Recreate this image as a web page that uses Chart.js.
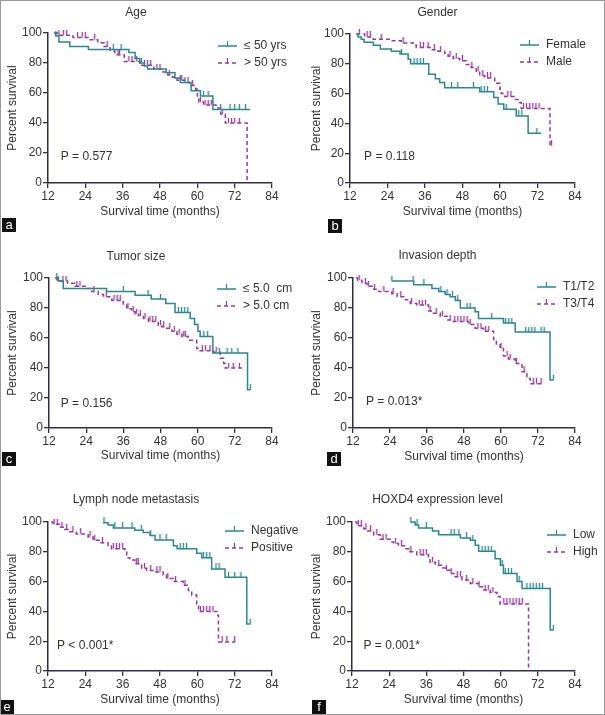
<!DOCTYPE html>
<html>
<head>
<meta charset="utf-8">
<script src="https://cdn.jsdelivr.net/npm/chart.js@4.4.1/dist/chart.umd.min.js"></script>
<style>
  body { margin: 0; background: #fff; }
  #fig { position: relative; width: 605px; height: 715px; overflow: hidden; }
  #frame { position: absolute; left: 0; top: 0; width: 605px; height: 715px; box-sizing: border-box; border: 1px solid #9a9a9a; pointer-events: none; }
  canvas { position: absolute; }
  .tag { position: absolute; width: 14px; height: 14px; background: #111; color: #fff;
         font: 13px "Liberation Sans", Arial, sans-serif; line-height: 13px; text-align: center; }
</style>
</head>
<body>
<div id="fig">
  <canvas id="cA" width="300" height="235" style="left:0;top:0"></canvas>
  <canvas id="cB" width="305" height="235" style="left:300px;top:0"></canvas>
  <canvas id="cC" width="300" height="240" style="left:0;top:235px"></canvas>
  <canvas id="cD" width="305" height="240" style="left:300px;top:235px"></canvas>
  <canvas id="cE" width="300" height="240" style="left:0;top:475px"></canvas>
  <canvas id="cF" width="305" height="240" style="left:300px;top:475px"></canvas>
  <div class="tag" style="left:2px;top:218px">a</div>
  <div class="tag" style="left:328px;top:219px">b</div>
  <div class="tag" style="left:2px;top:452px">c</div>
  <div class="tag" style="left:327px;top:452px">d</div>
  <div class="tag" style="left:0;top:700px">e</div>
  <div class="tag" style="left:312px;top:700px">f</div>
  <div id="frame"></div>
</div>
<script>
// --- data: event times (months) and survival (%) after each event, plus censor times ---
// a. Age
var ageLabels = ['≤ 50 yrs', '> 50 yrs'];
var ageLowTime = [14, 14.5, 15.5, 19, 25, 38, 40, 41.5, 43, 44, 50, 52.8, 54.5, 58, 61, 65, 77];
var ageLowSurv = [100, 98, 94, 91, 89, 87, 83, 80, 78, 76, 73.5, 70, 67, 61.5, 58, 49, 49];
var ageLowCens = [14.5, 33, 35.5, 42, 56, 62, 63.5, 67.5, 70.5, 72, 73.5, 75.5];
var ageHighTime = [14, 15, 20, 25.5, 28, 30, 32, 33.5, 36.5, 41.5, 46, 49, 50.5, 52, 53.5, 56, 57.5, 59.5, 60, 60.5, 62, 66, 67.5, 69, 76];
var ageHighSurv = [100, 98.5, 97, 95.5, 93.5, 91, 88, 85.5, 81, 78.5, 76, 74, 72, 70.5, 68.5, 67, 65, 62.5, 58, 54, 52, 50, 46, 40, 0];
var ageHighCens = [15.5, 17, 18, 21.5, 23, 24, 27, 31, 34.5, 35, 38, 39, 40.5, 43, 44, 45, 47, 48, 51, 54.5, 55, 57, 58.5, 61, 62.5, 63.5, 64.5, 68, 70, 71, 72, 73.5];

// b. Gender
var genderLabels = ['Female', 'Male'];
var femaleTime = [14, 14.6, 15.6, 16.5, 19.5, 21.7, 25.2, 28, 30.6, 31.4, 37.2, 39.3, 40.7, 42.3, 53.5, 58, 59.4, 61.2, 65.2, 69, 73.2];
var femaleSurv = [100, 98, 96.5, 94.5, 92.5, 90, 88.5, 86.5, 83, 80, 73, 70, 67.5, 64, 61.3, 57.3, 53, 49.5, 45, 33.4, 33.4];
var femaleCens = [28.5, 32.5, 33.5, 34.5, 35.5, 44.5, 46.5, 51.5, 54, 55, 56, 62, 66, 67, 71.8];
var maleTime = [14, 16.7, 19.4, 25.2, 28.4, 32.2, 33.2, 38, 40.2, 42.3, 43.4, 45, 47.1, 49.2, 50.8, 52.4, 53.5, 55.1, 58.3, 60, 60.4, 61.5, 64.7, 65.8, 66.8, 76, 76.5];
var maleSurv = [100, 98, 96.5, 95.5, 94, 92.5, 91, 89.5, 88.5, 87, 85, 83.5, 82, 79.5, 77.5, 75, 72, 70.5, 67, 63, 60, 58, 56, 54, 50, 25, 25];
var maleCens = [15, 17.5, 18.5, 22, 29, 34.5, 35.5, 37, 39, 41, 44, 46, 48, 51, 53, 54.5, 56, 57, 62.5, 63.5, 67.5, 68.5, 69.5, 70.5, 71.5, 72.5, 76.5];

// c. Tumor size
var sizeLabels = ['≤ 5.0  cm', '> 5.0 cm'];
var sizeSmallTime = [14, 15, 16.6, 30.6, 39.8, 45, 49.7, 52.7, 57.6, 59, 60.1, 60.8, 64.9, 76.1, 77];
var sizeSmallSurv = [100, 98, 93, 91, 88.5, 86, 83, 77, 73, 69, 64.5, 61, 50, 25.5, 25.5];
var sizeSmallCens = [14.5, 36, 44, 48, 53.8, 54.8, 55.8, 56.8, 62, 63.2, 67, 69.5, 71, 73, 77];
var sizeLargeTime = [14, 14.5, 18, 20.4, 24.2, 25.8, 27.9, 29.6, 32.3, 36, 37.1, 38.7, 39.8, 40.9, 42.5, 44.1, 47.3, 48.4, 50, 51.7, 53.3, 54.9, 57, 59.7, 60.8, 65.1, 67.3, 68.4, 68.9, 74.3];
var sizeLargeSurv = [100, 98, 96.5, 94.5, 93, 91, 89, 87.5, 85, 82, 79.5, 77.5, 76, 75, 73, 71, 68.5, 67.5, 66.5, 64.5, 62.5, 61, 58.5, 53, 51.5, 50.5, 46.5, 43, 40, 40];
var sizeLargeCens = [15, 16.5, 17.5, 21, 22, 26.5, 30.5, 33, 34, 35, 37.5, 39.2, 40.3, 41.5, 43, 44.6, 45.5, 46.5, 48, 49, 51, 52.5, 54, 55.5, 56, 61.5, 62.5, 64, 66, 70, 71.5, 73.5];

// d. Invasion depth
var depthLabels = ['T1/T2', 'T3/T4'];
var t12Time = [24.6, 31.7, 37.6, 39.8, 41.9, 43.5, 45.2, 46.8, 51.6, 52.7, 60.8, 64.6, 75.9, 77];
var t12Surv = [98, 95.5, 93, 91, 89, 87.5, 85, 80, 77.5, 73, 70, 64, 32, 32];
var t12Cens = [24.6, 31.5, 35, 40.5, 42.5, 44.3, 46, 49, 50, 57, 61.5, 62.5, 63.5, 68, 69, 70, 71, 73, 74, 77];
var t34Time = [13, 13.5, 14.9, 16.5, 18.2, 20.3, 24.6, 26.3, 29, 30.6, 32.7, 36.5, 38.1, 40.3, 42.5, 44, 49.5, 51.6, 54.3, 57.6, 58.5, 59.7, 60.8, 62.4, 64.6, 66.8, 68.4, 69.5, 73.2];
var t34Surv = [100, 98.5, 96.5, 94.5, 92.5, 91, 89.5, 87.5, 85.5, 83, 82, 78, 76.5, 74.5, 72, 71, 69, 66.5, 64.5, 59, 56, 53, 48, 46, 43, 37.5, 33, 29.5, 29.5];
var t34Cens = [14, 16, 17, 19, 22, 25, 27.5, 31, 33.5, 34.5, 35.5, 37, 39, 41, 43.5, 45, 46, 47, 48, 49, 50, 52.5, 53.5, 55, 56, 60, 62, 63, 65, 67.5, 70.5, 71.5, 73];

// e. Lymph node metastasis
var lymphLabels = ['Negative', 'Positive'];
var negTime = [29.7, 31.3, 33, 39.9, 42.6, 44.8, 46.4, 52.3, 53.5, 59.8, 61.4, 64.6, 68.9, 75.9, 77];
var negSurv = [99.5, 98, 96, 94.5, 93, 91, 88, 84, 82, 79, 76, 68.5, 63, 31.5, 31.5];
var negCens = [30, 33.5, 36, 39, 42, 45, 48, 50, 54.5, 55.5, 56.5, 62, 63, 64, 66, 67, 70, 72, 74, 77];
var posTime = [13, 13.6, 15.8, 17.4, 19, 21.1, 24.9, 26.5, 28.7, 31.3, 32.4, 36.7, 37.3, 38.3, 39.9, 42.1, 43.7, 46.4, 49, 50.1, 52.3, 55.5, 57.1, 58.2, 59.8, 60.4, 66.3, 66.8, 72.2];
var posSurv = [100, 98.5, 96.5, 95, 93.5, 92, 90, 87.7, 86, 84, 82, 80.5, 76, 74.5, 72, 69, 67.5, 66.5, 64.5, 62, 60, 57.5, 54, 51, 45, 40, 37.5, 19.5, 19.5];
var posCens = [14, 15, 16.5, 18, 20, 22.5, 25.5, 27, 29.5, 33, 34, 35, 36, 40.5, 41, 43, 45, 47, 48, 50.5, 53, 56, 61, 62, 63, 64, 65, 68, 69.5, 72];

// f. HOXD4 expression level
var hoxLabels = ['Low', 'High'];
var hoxLowTime = [30.8, 32.4, 33.5, 38, 40, 47, 50.2, 51.8, 52.9, 58.2, 59.9, 60.9, 65.3, 66.9, 76, 77.1];
var hoxLowSurv = [100, 98, 96, 94, 91.5, 89.3, 87.7, 84.4, 80.4, 75.4, 71, 65.4, 60, 55.4, 27.5, 27.5];
var hoxLowCens = [31, 33, 36, 44, 45, 46.5, 49, 51, 54, 55, 56, 57, 60.5, 61.5, 62.5, 63.5, 66, 68.5, 69.5, 70.5, 71.5, 72.5, 73.5, 77];
var hoxHighTime = [13, 13.6, 15.8, 17, 19, 21.1, 24.4, 25.4, 27, 29.2, 30.3, 32.9, 36.7, 37.2, 38.9, 41, 42.1, 43.7, 45.3, 47.5, 50.2, 52.9, 54.5, 56.6, 58.8, 59.8, 69];
var hoxHighSurv = [100, 97.5, 95.5, 94, 91.5, 88.5, 86.6, 85.5, 84, 82, 80, 78, 76, 73, 71, 69.2, 67.7, 65.5, 63.2, 61, 58.8, 56.5, 54.3, 52.7, 50, 45, 0];
var hoxHighCens = [14, 15, 16.5, 18, 20, 22, 23, 26, 28, 31, 34, 35, 36, 38, 40, 42.5, 44, 46, 47, 49, 51, 53, 55, 56, 57.5, 61, 62, 63, 64, 65, 66, 67];

var xTicks = [12, 24, 36, 48, 60, 72, 84];
var yTicks = [0, 20, 40, 60, 80, 100];

// --- styling ---
var FONT = '"Liberation Sans", Arial, sans-serif';
var TEAL = '#2b8791';
var PURPLE = '#97399c';
var AXIS = '#2e2e48';
var TEXT = '#333';
var DASH = [4, 3];
Chart.defaults.font.family = FONT;
Chart.defaults.font.size = 12;
Chart.defaults.color = TEXT;

// survival value in force at time t (last event at or before t)
function survAt(times, surv, t) {
    var s = surv[0];
    for (var i = 0; i < times.length; i++) {
        if (times[i] <= t) s = surv[i];
    }
    return s;
}

// small upward tick used as the censor mark
function tickMark(color) {
    var c = document.createElement('canvas');
    c.width = 3; c.height = 11;
    var g = c.getContext('2d');
    g.strokeStyle = color;
    g.lineWidth = 1.3;
    g.beginPath(); g.moveTo(1.5, 0); g.lineTo(1.5, 5.5); g.stroke();
    return c;
}
var tickTeal = tickMark(TEAL);
var tickPurple = tickMark(PURPLE);

// legend + P value drawn on top of each plot
var notes = {
    id: 'notes',
    afterDraw: function(chart) {
        var o = chart.options.plugins.notes;
        var ctx = chart.ctx, a = chart.chartArea;
        ctx.save();
        ctx.font = '12px ' + FONT;
        ctx.textBaseline = 'middle';
        o.labels.forEach(function(lab, i) {
            var col = i ? PURPLE : TEAL;
            var x0 = a.right - o.legX;
            var y = a.top + o.legY + i * 17;
            ctx.strokeStyle = col;
            ctx.lineWidth = 1.5;
            ctx.setLineDash(i ? DASH : []);
            ctx.beginPath(); ctx.moveTo(x0, y); ctx.lineTo(x0 + 19, y); ctx.stroke();
            ctx.setLineDash([]);
            ctx.lineWidth = 1.2;
            ctx.beginPath(); ctx.moveTo(x0 + 9.5, y); ctx.lineTo(x0 + 9.5, y - 5); ctx.stroke();
            ctx.fillStyle = TEXT;
            ctx.fillText(lab, x0 + 26, y);
        });
        ctx.fillStyle = TEXT;
        ctx.fillText(o.p, chart.scales.x.getPixelForValue(o.px), chart.scales.y.getPixelForValue(o.py));
        ctx.restore();
    }
};

function drawPanel(cfg) {
    var LH = 14.4;
    var datasets = [];
    cfg.series.forEach(function(s, i) {
        var col = i ? PURPLE : TEAL;
        datasets.push({
            data: s[0].map(function(t, k) { return {x: t, y: s[1][k]}; }),
            borderColor: col, borderWidth: 1.5, borderDash: i ? DASH : [],
            stepped: true, pointRadius: 0, fill: false, clip: 8
        });
        datasets.push({
            data: s[2].map(function(t) { return {x: t, y: survAt(s[0], s[1], t)}; }),
            showLine: false, pointStyle: i ? tickPurple : tickTeal,
            pointRadius: 5, pointHoverRadius: 5, clip: 8
        });
    });

    new Chart(document.getElementById(cfg.id), {
        type: 'line',
        data: { datasets: datasets },
        options: {
            responsive: false,
            animation: false,
            events: [],
            layout: { padding: { left: 0, top: 0, bottom: 0, right: cfg.w - cfg.R } },
            plugins: {
                legend: { display: false },
                tooltip: { enabled: false },
                title: {
                    display: true, text: cfg.title, color: TEXT,
                    font: { size: 12, weight: 'normal' },
                    padding: { top: cfg.titleY - LH / 2, bottom: cfg.T - cfg.titleY - LH / 2 }
                },
                notes: { labels: cfg.labels, p: cfg.p, px: cfg.px, py: cfg.py, legX: cfg.legX, legY: cfg.legY }
            },
            scales: {
                x: {
                    type: 'linear', min: xTicks[0], max: xTicks[xTicks.length - 1],
                    afterBuildTicks: function(s) { s.ticks = xTicks.map(function(v) { return {value: v}; }); },
                    ticks: { color: TEXT, padding: 1, font: { size: 12 } },
                    grid: { drawOnChartArea: false, tickLength: 5, color: AXIS, lineWidth: 1.3 },
                    border: { color: AXIS, width: 1.5 },
                    title: { display: true, text: 'Survival time (months)', color: TEXT, font: { size: 12 },
                             padding: { top: 0, bottom: cfg.h - cfg.xTitleY - LH / 2 } },
                    afterFit: function(s) { s.height = cfg.h - cfg.B; }
                },
                y: {
                    min: yTicks[0], max: yTicks[yTicks.length - 1],
                    afterBuildTicks: function(s) { s.ticks = yTicks.map(function(v) { return {value: v}; }); },
                    ticks: { color: TEXT, padding: 1, font: { size: 12 } },
                    grid: { drawOnChartArea: false, tickLength: 5, color: AXIS, lineWidth: 1.3 },
                    border: { color: AXIS, width: 1.5 },
                    title: { display: true, text: 'Percent survival', color: TEXT, font: { size: 12 },
                             padding: { top: cfg.yTitleX - LH / 2, bottom: 0 } },
                    afterFit: function(s) { s.width = cfg.L; }
                }
            }
        },
        plugins: [notes]
    });
}

var panels = [
    { id: 'cA', title: 'Age', labels: ageLabels, p: 'P = 0.577',
      series: [[ageLowTime, ageLowSurv, ageLowCens], [ageHighTime, ageHighSurv, ageHighCens]],
      w: 300, h: 235, L: 48, R: 272, T: 33, B: 183, titleY: 13, xTitleY: 212, yTitleX: 13,
      legX: 54, legY: 13, px: 16.1, py: 17.5 },
    { id: 'cB', title: 'Gender', labels: genderLabels, p: 'P = 0.118',
      series: [[femaleTime, femaleSurv, femaleCens], [maleTime, maleSurv, maleCens]],
      w: 305, h: 235, L: 50, R: 275, T: 34, B: 183, titleY: 13, xTitleY: 212, yTitleX: 17,
      legX: 55, legY: 11, px: 16.5, py: 17.4 },
    { id: 'cC', title: 'Tumor size', labels: sizeLabels, p: 'P = 0.156',
      series: [[sizeSmallTime, sizeSmallSurv, sizeSmallCens], [sizeLargeTime, sizeLargeSurv, sizeLargeCens]],
      w: 300, h: 240, L: 49, R: 272, T: 43, B: 193, titleY: 22, xTitleY: 221, yTitleX: 13,
      legX: 55, legY: 11, px: 15.8, py: 16 },
    { id: 'cD', title: 'Invasion depth', labels: depthLabels, p: 'P = 0.013*',
      series: [[t12Time, t12Surv, t12Cens], [t34Time, t34Surv, t34Cens]],
      w: 305, h: 240, L: 53, R: 275, T: 43, B: 193, titleY: 21, xTitleY: 222, yTitleX: 17,
      legX: 38, legY: 9, px: 16.2, py: 17.4 },
    { id: 'cE', title: 'Lymph node metastasis', labels: lymphLabels, p: 'P < 0.001*',
      series: [[negTime, negSurv, negCens], [posTime, posSurv, posCens]],
      w: 300, h: 240, L: 48, R: 272, T: 47, B: 196, titleY: 25, xTitleY: 225, yTitleX: 13,
      legX: 47, legY: 9, px: 14.9, py: 17 },
    { id: 'cF', title: 'HOXD4 expression level', labels: hoxLabels, p: 'P = 0.001*',
      series: [[hoxLowTime, hoxLowSurv, hoxLowCens], [hoxHighTime, hoxHighSurv, hoxHighCens]],
      w: 305, h: 240, L: 52, R: 275, T: 47, B: 196, titleY: 25, xTitleY: 225, yTitleX: 17,
      legX: 28, legY: 13, px: 15.7, py: 17 }
];

panels.forEach(drawPanel);
</script>
</body>
</html>
